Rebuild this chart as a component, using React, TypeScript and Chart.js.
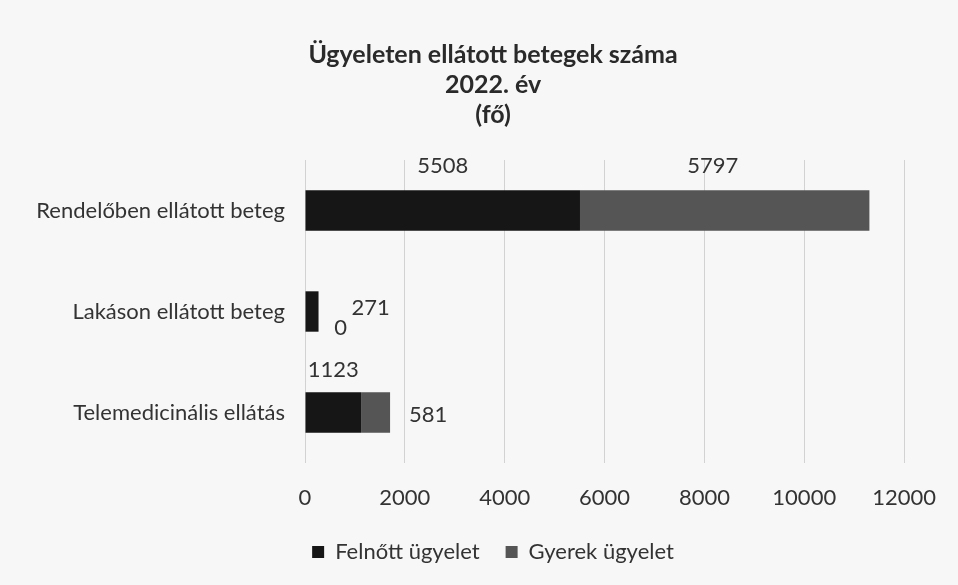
import React, { useEffect, useRef } from "react";
import { Chart, registerables } from "chart.js";

Chart.register(...registerables);

const categories = ["Rendelőben ellátott beteg", "Lakáson ellátott beteg", "Telemedicinális ellátás"];
const adultValues = [5508, 271, 1123];
const childValues = [5797, 0, 581];
const seriesNames = ["Felnőtt ügyelet", "Gyerek ügyelet"];
const titleLines = ["Ügyeleten ellátott betegek száma", "2022. év", "(fő)"];
const xTicks = [0, 2000, 4000, 6000, 8000, 10000, 12000];

// label placement (per dataset, per category): anchor relative to segment
const labelPlacement = [
  [
    { mode: "center", dx: 0, dy: -45 },
    { mode: "end", dx: 52, dy: -4 },
    { mode: "center", dx: 0, dy: -43 },
  ],
  [
    { mode: "center", dx: -12, dy: -45 },
    { mode: "end", dx: 22, dy: 16 },
    { mode: "endLeft", dx: 19, dy: 2 },
  ],
];

const FONT = "Lato, 'Open Sans', sans-serif";
const TEXT_SIZE = 22;

const labelPlugin = {
  id: "customLabels",
  afterDatasetsDraw(chart: any) {
    const ctx = chart.ctx;
    ctx.save();
    ctx.font = `${TEXT_SIZE}px ${FONT}`;
    ctx.fillStyle = "#333";
    ctx.textBaseline = "middle";
    chart.data.datasets.forEach((ds: any, di: number) => {
      const meta = chart.getDatasetMeta(di);
      meta.data.forEach((el: any, i: number) => {
        const p = labelPlacement[di][i];
        const txt = String(ds.data[i]);
        let x: number;
        ctx.textAlign = "center";
        if (p.mode === "center") {
          x = (el.x + el.base) / 2 + p.dx;
        } else if (p.mode === "end") {
          x = el.x + p.dx;
        } else {
          x = el.x + p.dx;
          ctx.textAlign = "left";
        }
        ctx.fillText(txt, x, el.y + p.dy);
      });
    });
    ctx.restore();
  },
};

const bgPlugin = {
  id: "bg",
  beforeDraw(chart: any) {
    const ctx = chart.ctx;
    ctx.save();
    ctx.fillStyle = "#f7f7f7";
    ctx.fillRect(0, 0, chart.width, chart.height);
    ctx.restore();
  },
};

// let the category labels extend into the left padding without being clipped
const widenYPlugin = {
  id: "widenY",
  afterLayout(chart: any) {
    const y = chart.scales.y;
    y.left = 0;
    y.width = y.right;
  },
};

export default function App() {
  const ref = useRef<HTMLCanvasElement>(null);
  useEffect(() => {
    document.body.style.margin = "0";
    const chart = new Chart(ref.current!, {
      type: "bar",
      data: {
        labels: categories,
        datasets: [
          { label: seriesNames[0], data: adultValues, backgroundColor: "#161616", barPercentage: 0.4, categoryPercentage: 1 },
          { label: seriesNames[1], data: childValues, backgroundColor: "#555555", barPercentage: 0.4, categoryPercentage: 1 },
        ],
      },
      options: {
        indexAxis: "y",
        animation: false,
        responsive: false,
        layout: { padding: { left: 76, right: 48, top: 40, bottom: 12 } },
        plugins: {
          title: {
            display: true,
            text: titleLines,
            font: { family: FONT, size: 25, weight: "bold" },
            color: "#2a2a2a",
            padding: { top: 0, bottom: 30 },
            lineHeight: 1.17,
          },
          legend: {
            position: "bottom",
            labels: {
              boxWidth: 12,
              boxHeight: 12,
              color: "#333",
              font: { family: FONT, size: TEXT_SIZE },
              padding: 26,
            },
          },
          tooltip: { enabled: false },
        },
        scales: {
          x: {
            stacked: true,
            min: 0,
            max: 12000,
            afterBuildTicks: (axis: any) => {
              axis.ticks = xTicks.map((v) => ({ value: v }));
            },
            afterFit: (axis: any) => {
              axis.height = 52;
            },
            grid: { color: "#d2d2d2", drawTicks: false },
            border: { display: false },
            ticks: {
              color: "#333",
              font: { family: FONT, size: TEXT_SIZE },
              padding: 22,
              callback: (v: any) => String(v),
            },
          },
          y: {
            stacked: true,
            afterFit: (axis: any) => {
              axis.width = 229;
            },
            grid: { display: false },
            border: { display: false },
            ticks: { color: "#333", font: { family: FONT, size: TEXT_SIZE }, padding: 12 },
          },
        },
      },
      plugins: [bgPlugin, widenYPlugin, labelPlugin],
    } as any);
    return () => chart.destroy();
  }, []);
  return <canvas ref={ref} width={958} height={585} style={{ display: "block" }} />;
}
